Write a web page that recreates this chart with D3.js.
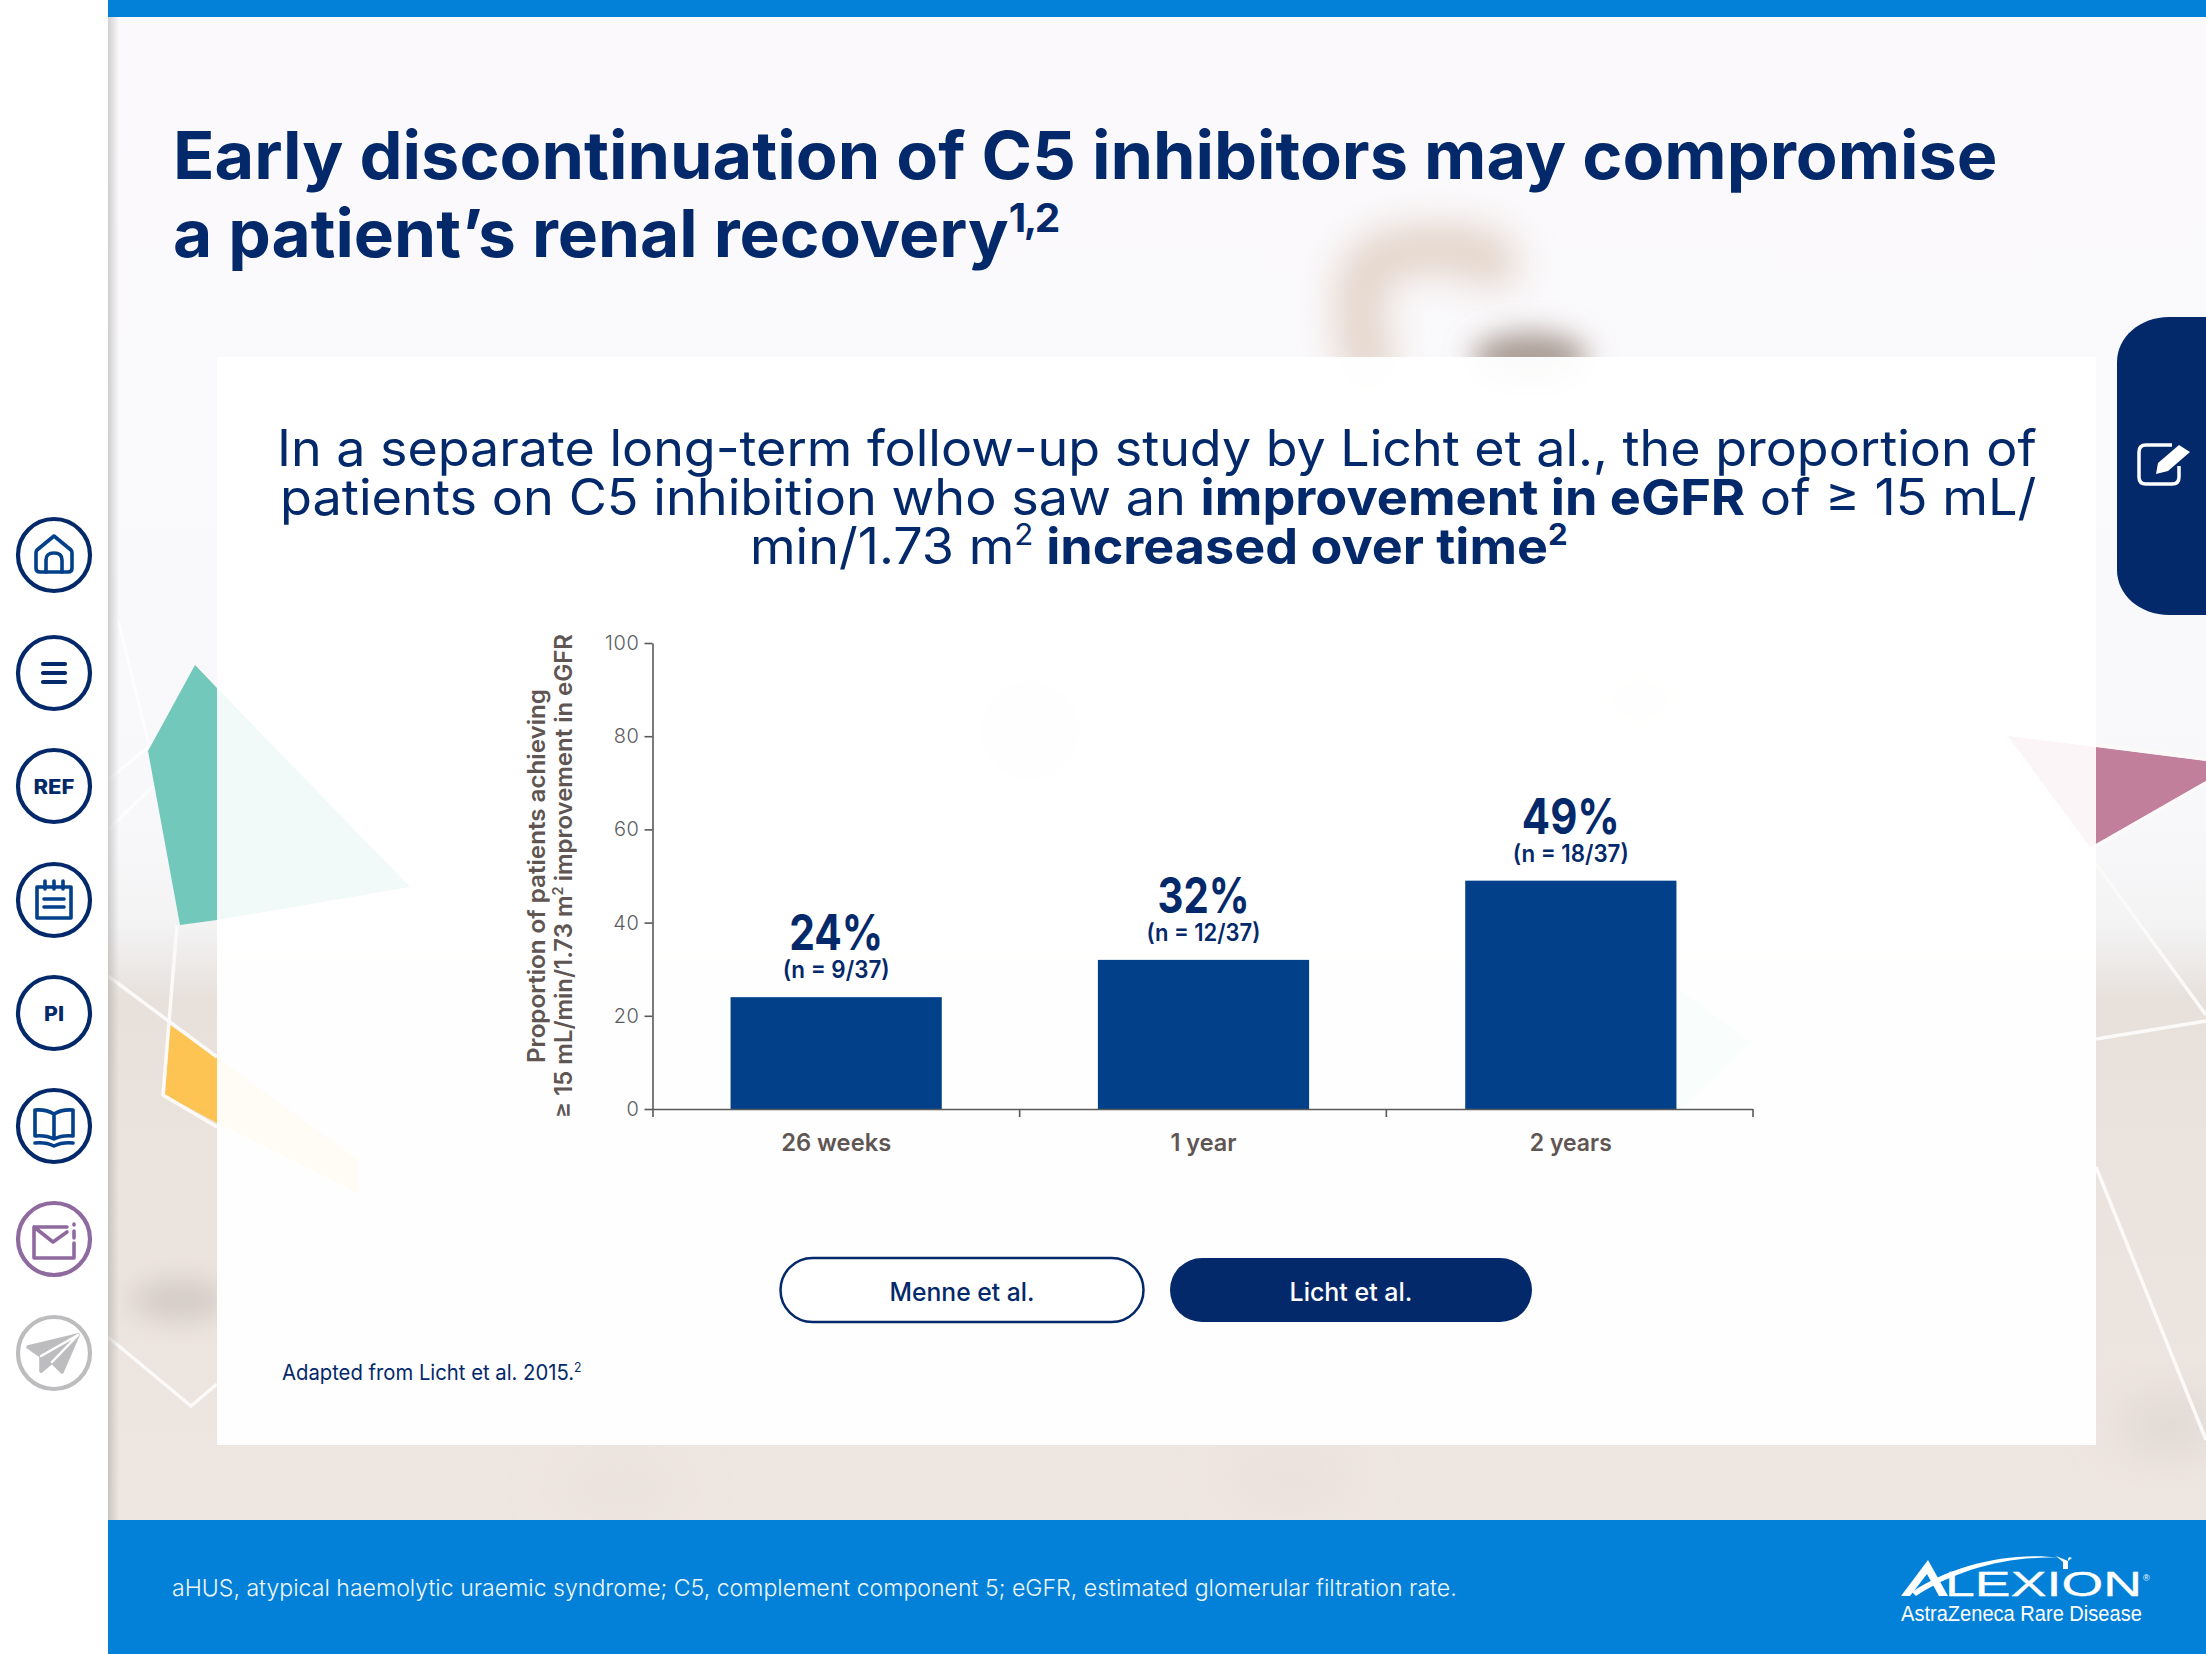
<!DOCTYPE html>
<html>
<head>
<meta charset="utf-8">
<title>Early discontinuation of C5 inhibitors</title>
<script src="https://cdn.jsdelivr.net/npm/d3@7"></script>
<style>
  html, body { margin: 0; padding: 0; background: #fff; }
  svg { display: block; }
  text { font-family: Inter, "Noto Sans", sans-serif; white-space: pre; }
  .axis-y text { font-weight: 300; font-size: 20px; letter-spacing: 0.6px; fill: #5c5c5e; }
  .axis path, .axis line { stroke: #58595b; stroke-width: 1.6; }
</style>
</head>
<body>
<svg id="slide" width="2206" height="1654" viewBox="0 0 2206 1654"></svg>
<script>
// Chart values
const categories = ["26 weeks", "1 year", "2 years"];
const percentages = [24, 32, 49];
const patientCounts = ["(n = 9/37)", "(n = 12/37)", "(n = 18/37)"];
const yTicks = [0, 20, 40, 60, 80, 100];
const categoryLabelWidths = [110, 66, 82];
const countLabelWidths = [107, 114, 116];
const percentLabelWidths = [94, 92, 98];

const NAVY = "#03296b", BAR = "#03408a", BLUE = "#0381d8", MUTED = "#5f5653";

const svg = d3.select("#slide");
const defs = svg.append("defs");

[["blur14", 14], ["blur18", 18], ["blur24", 24]].forEach(([id, s]) => {
  defs.append("filter").attr("id", id)
    .attr("x", "-60%").attr("y", "-60%").attr("width", "220%").attr("height", "220%")
    .append("feGaussianBlur").attr("stdDeviation", s);
});

const backdrop = defs.append("linearGradient").attr("id", "backdrop")
  .attr("x1", 0).attr("y1", 0).attr("x2", 0).attr("y2", 1);
[[0, "#fbf9fb"], [0.5, "#f8f8fa"], [0.56, "#f3f3f4"], [0.605, "#e7e0db"], [0.72, "#ebe3de"], [1, "#efe7e1"]]
  .forEach(([o, c]) => backdrop.append("stop").attr("offset", o).attr("stop-color", c));

const sideShade = defs.append("linearGradient").attr("id", "sideShade");
sideShade.append("stop").attr("offset", 0).attr("stop-color", "#a8a4a0").attr("stop-opacity", 0.5);
sideShade.append("stop").attr("offset", 1).attr("stop-color", "#a8a4a0").attr("stop-opacity", 0);

// Slide backdrop
svg.append("rect").attr("x", 108).attr("y", 0).attr("width", 2098).attr("height", 1654)
  .attr("fill", "url(#backdrop)");

const blobs = [
  { cx: 180, cy: 1300, rx: 50, ry: 20, fill: "#d3cbc6", f: "blur14" },
  { cx: 2170, cy: 1425, rx: 50, ry: 28, fill: "#dfd7d1", f: "blur24" },
  { cx: 1030, cy: 730, rx: 50, ry: 50, fill: "#dcd8d8", f: "blur24" },
  { cx: 1640, cy: 700, rx: 50, ry: 20, fill: "#ecd8d0", f: "blur24" },
  { cx: 1980, cy: 1360, rx: 90, ry: 18, fill: "#dfdad7", f: "blur14" },
  { cx: 380, cy: 1290, rx: 40, ry: 22, fill: "#dcd8d5", f: "blur14" },
  { cx: 1290, cy: 1480, rx: 60, ry: 24, fill: "#e9e0da", f: "blur24" },
  { cx: 620, cy: 1490, rx: 60, ry: 20, fill: "#e9e1db", f: "blur24" }
];
svg.append("g").selectAll("ellipse").data(blobs).join("ellipse")
  .attr("cx", d => d.cx).attr("cy", d => d.cy).attr("rx", d => d.rx).attr("ry", d => d.ry)
  .attr("fill", d => d.fill).attr("filter", d => `url(#${d.f})`);

// Blurred curved object behind the heading
svg.append("path")
  .attr("d", "M1372,385 C1358,320 1350,270 1385,256 C1420,246 1470,246 1490,258 L1490,285")
  .attr("fill", "none").attr("stroke", "#e4d5cb").attr("stroke-width", 50)
  .attr("filter", "url(#blur18)");
svg.append("ellipse").attr("cx", 1530).attr("cy", 358).attr("rx", 58).attr("ry", 26)
  .attr("fill", "#aa9d95").attr("filter", "url(#blur14)");

// Faint lattice lines in the upper left margin
const faintLines = [
  [[118, 620], [160, 790]], [[108, 780], [217, 690]], [[108, 830], [190, 750]]
];
svg.append("g").selectAll("path").data(faintLines).join("path")
  .attr("d", d3.line()).attr("fill", "none").attr("stroke", "#ffffff").attr("stroke-width", 3).attr("opacity", 0.7);

// Coloured facets
const polygons = [
  { pts: [[195, 665], [217, 688], [217, 920], [180, 925], [148, 751]], fill: "#72c8bb" },
  { pts: [[170, 1025], [217, 1057], [217, 1123], [165, 1095]], fill: "#fdc454" },
  { pts: [[2096, 747], [2206, 761], [2206, 781], [2096, 844]], fill: "#c27f9b" }
];
svg.append("g").selectAll("polygon").data(polygons).join("polygon")
  .attr("points", d => d.pts.join(" ")).attr("fill", d => d.fill);

// White lattice lines
const latticeLines = [
  [[108, 976], [217, 1057]],
  [[177, 925], [163, 1095], [217, 1127]],
  [[108, 1337], [191, 1406], [217, 1384]],
  [[2096, 864], [2206, 1015]],
  [[2096, 1039], [2206, 1021]],
  [[2096, 1167], [2206, 1440]],
  [[2096, 745], [2206, 759]],
  [[2096, 846], [2206, 783]]
];
svg.append("g").selectAll("path").data(latticeLines).join("path")
  .attr("d", d3.line()).attr("fill", "none").attr("stroke", "#fbfaf9").attr("stroke-width", 3.5);

// Content card
svg.append("rect").attr("x", 217).attr("y", 357).attr("width", 1879).attr("height", 1088)
  .attr("fill", "#ffffff").attr("opacity", 0.955);

// Facets fading out under the card
const fadedFacets = [
  { pts: [[217, 688], [410, 887], [217, 920]], fill: "#f1faf8" },
  { pts: [[217, 1057], [358, 1160], [358, 1193], [217, 1123]], fill: "#fffcf6" },
  { pts: [[2008, 736], [2096, 747], [2096, 844], [2090, 847]], fill: "#fcf5f7" },
  { pts: [[1680, 990], [1750, 1042], [1680, 1110]], fill: "#f9fdfb" }
];
svg.append("g").selectAll("polygon").data(fadedFacets).join("polygon")
  .attr("points", d => d.pts.join(" ")).attr("fill", d => d.fill);

// Top and bottom bands
svg.append("rect").attr("x", 108).attr("y", 0).attr("width", 2098).attr("height", 17).attr("fill", BLUE);
svg.append("rect").attr("x", 108).attr("y", 1520).attr("width", 2098).attr("height", 134).attr("fill", BLUE);

// Sidebar
svg.append("rect").attr("x", 0).attr("y", 0).attr("width", 108).attr("height", 1654).attr("fill", "#ffffff");
svg.append("rect").attr("x", 108).attr("y", 17).attr("width", 11).attr("height", 1503).attr("fill", "url(#sideShade)");

// Writes mixed-weight runs into one text element and stretches it to the given width.
function fitted(parent, x, y, width, size, runs, opts = {}) {
  const t = parent.append("text").attr("font-size", size).attr("fill", opts.fill || NAVY);
  let lifted = 0;
  runs.forEach(r => {
    const s = t.append("tspan").text(r.t).attr("font-weight", r.w || opts.w || 400);
    const lift = r.sup ? size * 0.38 : 0;
    if (lift !== lifted) s.attr("dy", lifted - lift);
    lifted = lift;
    if (r.sup) s.attr("font-size", size * 0.6).attr("letter-spacing", "-0.06em");
  });
  const sx = width / t.node().getComputedTextLength();
  const left = opts.anchor === "middle" ? x - width / 2 : x;
  t.attr("transform", `translate(${left},${y}) scale(${sx},1)`);
  return t;
}

// Heading
fitted(svg, 173, 179, 1825, 66, [{ t: "Early discontinuation of C5 inhibitors may compromise" }], { w: 700 });
fitted(svg, 173, 257, 885, 66, [{ t: "a patient’s renal recovery" }, { t: "1,2", sup: true }], { w: 700 });

// Lead-in paragraph
fitted(svg, 277, 466, 1760, 50, [{ t: "In a separate long-term follow-up study by Licht et al., the proportion of" }]);
fitted(svg, 280, 515, 1757, 50, [
  { t: "patients on C5 inhibition who saw an " }, { t: "improvement in eGFR", w: 700 }, { t: " of ≥ 15 mL/" }
]);
fitted(svg, 750, 564, 816, 50, [
  { t: "min/1.73 m" }, { t: "2", sup: true }, { t: " " }, { t: "increased over time", w: 700 }, { t: "2", sup: true, w: 700 }
]);

// Bar chart
const plot = { left: 652.5, right: 1752.5, top: 643, bottom: 1109 };
const x = d3.scaleBand().domain(categories).range([plot.left, plot.left + 1102])
  .paddingInner(0.425).paddingOuter(0.2125);
const xEdges = d3.scaleLinear().domain([0, categories.length]).range([plot.left, plot.right]);
const y = d3.scaleLinear().domain([0, 100]).range([plot.bottom, plot.top]);

const chart = svg.append("g");

chart.append("g").selectAll("rect").data(percentages).join("rect")
  .attr("x", (d, i) => x(categories[i]))
  .attr("y", d => y(d))
  .attr("width", x.bandwidth())
  .attr("height", d => y(0) - y(d))
  .attr("fill", BAR);

chart.append("g").attr("class", "axis axis-y")
  .attr("transform", `translate(${plot.left},0)`)
  .call(d3.axisLeft(y).tickValues(yTicks).tickSize(8).tickSizeOuter(0).tickPadding(5));

chart.append("g").attr("class", "axis axis-x")
  .attr("transform", `translate(0,${plot.bottom})`)
  .call(d3.axisBottom(xEdges).tickValues(d3.range(categories.length + 1)).tickSize(8).tickSizeOuter(0).tickFormat(""));

const xLabels = chart.append("g")
  .attr("transform", `translate(0,${plot.bottom})`)
  .call(d3.axisBottom(x).tickSize(0).tickPadding(0));
xLabels.select(".domain").remove();
xLabels.selectAll("text")
  .attr("font-family", null).attr("font-size", 24).attr("font-weight", 600).attr("fill", MUTED)
  .attr("y", 42).attr("dy", 0)
  .attr("transform", function (d, i) {
    return `scale(${categoryLabelWidths[i] / this.getComputedTextLength()},1)`;
  });

const barCentre = i => x(categories[i]) + x.bandwidth() / 2;
percentages.forEach((v, i) => {
  fitted(chart, barCentre(i), y(v) - 47, percentLabelWidths[i], 50, [{ t: `${v}%` }], { w: 700, anchor: "middle" });
  fitted(chart, barCentre(i), y(v) - 19, countLabelWidths[i], 24, [{ t: patientCounts[i] }], { w: 600, anchor: "middle" });
});

// Y axis title, set on two rotated lines
const yTitle = chart.append("g");
const addTitleLine = (bx, cy, len, runs) => {
  const g = yTitle.append("g").attr("transform", `translate(${bx},${cy}) rotate(-90)`);
  fitted(g, 0, 0, len, 24, runs, { w: 600, fill: MUTED, anchor: "middle" });
};
addTitleLine(545, 876, 374, [{ t: "Proportion of patients achieving" }]);
addTitleLine(572, 876, 484, [{ t: "≥ 15 mL/min/1.73 m" }, { t: "2", sup: true }, { t: " improvement in eGFR" }]);

// Study toggle buttons
svg.append("rect").attr("x", 780.5).attr("y", 1258).attr("width", 363).attr("height", 64).attr("rx", 32)
  .attr("fill", "#ffffff").attr("stroke", NAVY).attr("stroke-width", 2.5);
svg.append("rect").attr("x", 1170).attr("y", 1258).attr("width", 362).attr("height", 64).attr("rx", 32)
  .attr("fill", NAVY);
fitted(svg, 962, 1301, 145, 25, [{ t: "Menne et al." }], { w: 500, anchor: "middle" });
fitted(svg, 1351, 1301, 123, 25, [{ t: "Licht et al." }], { w: 500, fill: "#ffffff", anchor: "middle" });

// Source and abbreviations
fitted(svg, 282, 1380, 299, 21, [{ t: "Adapted from Licht et al. 2015." }, { t: "2", sup: true }]);
fitted(svg, 172, 1596, 1285, 23, [
  { t: "aHUS, atypical haemolytic uraemic syndrome; C5, complement component 5; eGFR, estimated glomerular filtration rate." }
], { w: 300, fill: "#eef6fc" });

// Company mark
const logo = svg.append("g");
logo.append("path")
  .attr("d", "M1901,1596 L1928,1560 L1948,1596 L1939,1596 L1927,1574 L1910,1596 Z").attr("fill", "#fff");
logo.append("path")
  .attr("d", "M1912,1592 C1950,1566 2010,1551 2060,1558 C2010,1555 1955,1570 1916,1596 Z").attr("fill", "#fff");
logo.append("path")
  .attr("d", "M2056,1556 L2068,1561 L2068,1569 L2063,1569 L2063,1562 Z M2068,1561 L2068,1559 L2069,1557 L2072,1558 Z").attr("fill", "#fff");
const wordmark = logo.append("text").attr("font-size", 35).attr("font-weight", 400).attr("fill", "#fff")
  .style("font-family", "'Liberation Sans', sans-serif").attr("stroke", "#fff").attr("stroke-width", 0.3).text("LEXION");
wordmark.attr("transform", `translate(1945,1596) scale(${197 / wordmark.node().getComputedTextLength()},1)`);
logo.append("text").attr("x", 2143).attr("y", 1581).attr("font-size", 9).attr("fill", "#fff")
  .style("font-family", "'Liberation Sans', sans-serif").text("®");
const tagline = logo.append("text").attr("font-size", 22).attr("fill", "#fff")
  .style("font-family", "'Liberation Sans', sans-serif").text("AstraZeneca Rare Disease");
tagline.attr("transform", `translate(1901,1621) scale(${241 / tagline.node().getComputedTextLength()},1)`);

// Side tab with its note icon
svg.append("path")
  .attr("d", "M2206,317 L2169,317 C2140,317 2117,337 2117,362 L2117,570 C2117,595 2140,615 2169,615 L2206,615 Z")
  .attr("fill", NAVY);
const note = svg.append("g").attr("fill", "none").attr("stroke", "#ffffff").attr("stroke-width", 3.5).attr("stroke-linejoin", "round");
note.append("path").attr("d", "M2172,445 L2146,445 Q2139,445 2139,452 L2139,477 Q2139,484 2146,484 L2172,484 Q2179,484 2179,477 L2179,466");
note.append("path").attr("d", "M2156,474 L2158,463 L2179,445 L2190,452 L2168,471 Z").attr("fill", "#fff").attr("stroke", "none");

// Navigation buttons
const navIcons = [
  { cy: 555, color: NAVY, ink: BAR, draw: g => {
      g.append("path").attr("d", "M-17,-5 L0,-19 L17,-5 Q18,-4 18,-2 L18,13 Q18,17 14,17 L-14,17 Q-18,17 -18,13 L-18,-2 Q-18,-4 -17,-5 Z");
      g.append("path").attr("d", "M-8,17 L-8,5 Q-8,-2 0,-2 Q8,-2 8,5 L8,17");
  } },
  { cy: 673, color: NAVY, ink: NAVY, draw: g => {
      [-9, 0, 9].forEach(dy => g.append("path").attr("d", `M-11,${dy} L11,${dy}`).attr("stroke-width", 4.2));
  } },
  { cy: 786, color: NAVY, ink: NAVY, label: "REF", w: 41 },
  { cy: 900, color: NAVY, ink: BAR, draw: g => {
      g.append("path").attr("d", "M-17,-13 L17,-13 L17,18 L-17,18 Z");
      g.append("path").attr("d", "M-9,-19 L-9,-11 M0,-19 L0,-11 M9,-19 L9,-11 M-10,-1 L10,-1 M-10,7 L10,7");
  } },
  { cy: 1013, color: NAVY, ink: NAVY, label: "PI", w: 20 },
  { cy: 1126, color: NAVY, ink: BAR, draw: g => {
      g.append("path").attr("d", "M0,-12 Q-8,-17 -19,-16 L-19,10 Q-8,9 0,13 Q8,9 19,10 L19,-16 Q8,-17 0,-12 Z M0,-12 L0,13");
      g.append("path").attr("d", "M-19,17 Q-8,16 0,20 Q8,16 19,17");
  } },
  { cy: 1239, color: "#8f6a9f", ink: "#8f6a9f", draw: g => {
      g.append("path").attr("d", "M13,-12 L-20,-12 L-20,19 L20,19 L20,4 M-20,-12 L-1,3 L13,-7");
      g.append("path").attr("d", "M20,-14 L20,-15 M20,-8 L20,-1");
  } },
  { cy: 1353, color: "#bdbdbf", ink: "#bdbdbf", draw: g => {
      g.append("path").attr("fill", "#bdbdbf").attr("d", "M-26,-6 L24,-18 L8,19 L-2,9 L-13,18 L-13,3 Z");
      g.append("path").attr("stroke", "#ffffff").attr("stroke-width", 2.5).attr("d", "M-13,3 L24,-18 L-2,9");
  } }
];
navIcons.forEach(n => {
  const g = svg.append("g").attr("transform", `translate(54,${n.cy})`)
    .attr("fill", "none").attr("stroke", n.ink).attr("stroke-width", 3.6)
    .attr("stroke-linecap", "round").attr("stroke-linejoin", "round");
  g.append("circle").attr("r", 36).attr("stroke", n.color).attr("stroke-width", 4.2).attr("fill", "#ffffff");
  if (n.draw) n.draw(g);
  if (n.label) fitted(svg.append("g").attr("transform", `translate(54,${n.cy})`), 0, 8, n.w, 20, [{ t: n.label }], { w: 800, anchor: "middle" });
});
</script>
</body>
</html>
